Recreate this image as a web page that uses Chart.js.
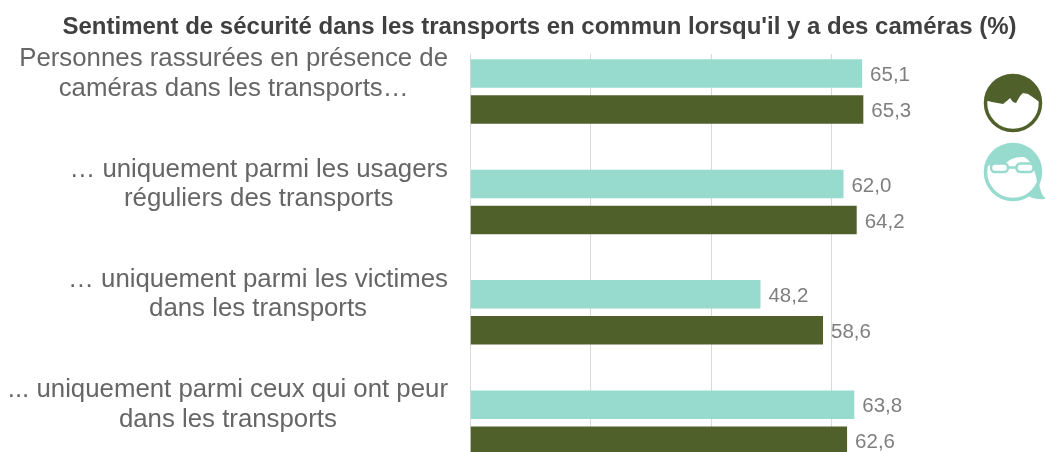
<!DOCTYPE html>
<html>
<head>
<meta charset="utf-8">
<script src="https://cdn.jsdelivr.net/npm/chart.js@4"></script>
<style>
html,body{margin:0;padding:0;background:#fff;overflow:hidden}
#wrap{width:1045px;height:452px;overflow:hidden}
</style>
</head>
<body>
<div id="wrap"><canvas id="myChart" width="1045" height="478"></canvas></div>
<script>
const titleText = "Sentiment de sécurité dans les transports en commun lorsqu'il y a des caméras (%)"
const categories = [
    ["Personnes rassurées en présence de", "caméras dans les transports…"],
    ["… uniquement parmi les usagers", "réguliers des transports"],
    ["… uniquement parmi les victimes", "dans les transports"],
    ["... uniquement parmi ceux qui ont peur", "dans les transports"]
]
const femmes = [65.1, 62.0, 48.2, 63.8]
const hommes = [65.3, 64.2, 58.6, 62.6]
const gridTicks = [0, 20, 40, 60]

const teal = '#97dbcf'
const green = '#50602a'
const textGrey = '#7f7f7f'
const labelFont = '25.8px "Liberation Sans", Arial, sans-serif'
const valueFont = '20.5px "Liberation Sans", Arial, sans-serif'

// gridlines start a bit below the top of the plot, so drawn here instead of scale grid
const gridPlugin = {
    id: 'shortGrid',
    beforeDatasetsDraw(chart) {
        const {ctx, chartArea, scales} = chart
        ctx.save()
        ctx.strokeStyle = '#d9d9d9'
        ctx.lineWidth = 1
        gridTicks.forEach((t) => {
            const x = Math.floor(scales.x.getPixelForValue(t)) + 0.5
            ctx.beginPath()
            ctx.moveTo(x, 54)
            ctx.lineTo(x, chartArea.bottom)
            ctx.stroke()
        })
        ctx.restore()
    }
}

// category labels: each block is right aligned, its lines centred on each other
const labelPlugin = {
    id: 'blockLabels',
    afterDraw(chart) {
        const {ctx, scales} = chart
        ctx.save()
        ctx.font = labelFont
        ctx.fillStyle = '#666666'
        ctx.textBaseline = 'middle'
        ctx.textAlign = 'center'
        categories.forEach((lines, i) => {
            const w = Math.max(...lines.map((l) => ctx.measureText(l).width))
            const cx = 448 - w / 2
            const cy = scales.y.getPixelForValue(i) - 32.5
            lines.forEach((l, j) => ctx.fillText(l, cx, cy + j * 29.5))
        })
        ctx.restore()
    }
}

const valuePlugin = {
    id: 'valueLabels',
    afterDatasetsDraw(chart) {
        const {ctx} = chart
        ctx.save()
        ctx.font = valueFont
        ctx.fillStyle = textGrey
        ctx.textAlign = 'left'
        ctx.textBaseline = 'middle'
        chart.data.datasets.forEach((ds, d) => {
            chart.getDatasetMeta(d).data.forEach((bar, i) => {
                ctx.fillText(ds.data[i].toFixed(1).replace('.', ','), bar.x + 8, bar.y + 2)
            })
        })
        ctx.restore()
    }
}

function poly(c, pts) {
    c.beginPath()
    pts.forEach((p, i) => i ? c.lineTo(p[0], p[1]) : c.moveTo(p[0], p[1]))
    c.closePath()
}

// the two little heads on the right
const iconPlugin = {
    id: 'heads',
    afterDraw(chart) {
        const {ctx} = chart
        const r = 27.5
        ctx.save()
        ctx.lineWidth = 3.5
        // man
        ctx.save()
        ctx.beginPath()
        ctx.arc(1013, 103, r, 0, Math.PI * 2)
        ctx.clip()
        poly(ctx, [[984, 100], [992, 102], [1003, 104], [1008, 100], [1010, 98], [1013, 102], [1016, 103], [1020, 96], [1023, 93], [1028, 94], [1034, 98], [1042, 104], [1042, 72], [984, 72]])
        ctx.fillStyle = green
        ctx.fill()
        ctx.restore()
        ctx.beginPath()
        ctx.arc(1013, 103, r, 0, Math.PI * 2)
        ctx.strokeStyle = green
        ctx.stroke()
        // woman
        ctx.save()
        ctx.beginPath()
        ctx.arc(1013, 172, r, 0, Math.PI * 2)
        ctx.clip()
        ctx.beginPath()
        ctx.moveTo(984, 166)
        ctx.lineTo(1005, 164)
        ctx.quadraticCurveTo(1012, 156, 1024, 157)
        ctx.quadraticCurveTo(1034, 162, 1037, 182)
        ctx.lineTo(1042, 182)
        ctx.lineTo(1042, 142)
        ctx.lineTo(984, 142)
        ctx.closePath()
        ctx.fillStyle = teal
        ctx.fill()
        ctx.restore()
        ctx.beginPath()
        ctx.arc(1013, 172, r, 0, Math.PI * 2)
        ctx.strokeStyle = teal
        ctx.stroke()
        // hair tail
        ctx.beginPath()
        ctx.moveTo(1039, 182)
        ctx.quadraticCurveTo(1040, 194, 1046, 199)
        ctx.quadraticCurveTo(1036, 200, 1028, 196)
        ctx.closePath()
        ctx.fillStyle = teal
        ctx.fill()
        // glasses
        ctx.fillStyle = '#fff'
        ctx.lineWidth = 2.5
        ctx.beginPath()
        ctx.roundRect(991, 163.5, 17, 8.5, 4)
        ctx.fill()
        ctx.stroke()
        ctx.beginPath()
        ctx.roundRect(1016.5, 163.5, 17, 8.5, 4)
        ctx.fill()
        ctx.stroke()
        ctx.beginPath()
        ctx.moveTo(1008, 167.5)
        ctx.lineTo(1016.5, 167.5)
        ctx.stroke()
        ctx.restore()
    }
}

const ctx = document.getElementById('myChart').getContext('2d')
const myChart = new Chart(ctx, {
    type: 'bar',
    data: {
        labels: categories,
        datasets: [
            {label: 'Femmes', data: femmes, backgroundColor: teal},
            {label: 'Hommes', data: hommes, backgroundColor: green}
        ]
    },
    options: {
        indexAxis: 'y',
        responsive: false,
        animation: false,
        layout: {padding: {left: 34, right: 0, top: 0, bottom: 0}},
        categoryPercentage: 0.652,
        barPercentage: 0.79,
        scales: {
            x: {min: 0, max: 95.5, display: false, grid: {display: false}},
            y: {
                ticks: {display: false},
                grid: {display: false},
                border: {display: false},
                afterFit: (s) => { s.width = 436.5 }
            }
        },
        plugins: {
            legend: {display: false},
            tooltip: {enabled: false},
            title: {
                display: true,
                text: titleText,
                color: '#404040',
                font: {family: '"Liberation Sans", Arial, sans-serif', size: 24, weight: 'bold'},
                padding: {top: 12.6, bottom: -5.15}
            }
        }
    },
    plugins: [gridPlugin, valuePlugin, labelPlugin, iconPlugin]
})
</script>
</body>
</html>
